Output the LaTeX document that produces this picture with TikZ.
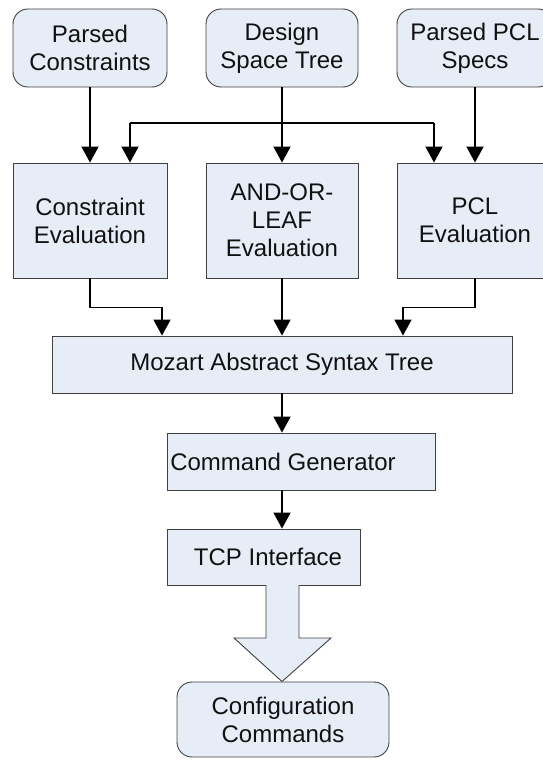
\documentclass[tikz,border=0pt]{standalone}
\usepackage{fontspec}
\setmainfont{Liberation Sans}
\usetikzlibrary{arrows.meta,calc}
\definecolor{boxfill}{HTML}{E6EDF7}
\definecolor{boxline}{HTML}{404040}
\definecolor{txt}{HTML}{111111}
\begin{document}
\begin{tikzpicture}[x=1pt,y=-1pt,
  every node/.style={font=\fontsize{24}{28}\selectfont, text=txt, align=center, inner sep=0pt},
  rbox/.style={draw=boxline, line width=0.9pt, fill=boxfill, rounded corners=15pt},
  sbox/.style={draw=boxline, line width=0.9pt, fill=boxfill},
  arr/.style={draw=black, line width=1.8pt, -{Triangle[length=16pt,width=17pt]}},
  ln/.style={draw=black, line width=1.8pt}]
\useasboundingbox (0,0) rectangle (543,760);
\clip (0,0) rectangle (543,760);
\fill[white] (0,0) rectangle (543,760);
% top row
\node[rbox, minimum width=154pt, minimum height=78pt] (pc) at (90,48) {Parsed\\Constraints};
\node[rbox, minimum width=152pt, minimum height=78pt] (ds) at (282,48) {Design\\Space Tree};
\node[rbox, minimum width=156pt, minimum height=78pt] (pp) at (475,48) {Parsed PCL\\Specs};
% evaluation row
\node[sbox, minimum width=154pt, minimum height=115pt] (ce) at (90,220.5) {Constraint\\Evaluation};
\node[sbox, minimum width=152pt, minimum height=115pt] (ao) at (282,220.5) {AND-OR-\\LEAF\\Evaluation};
\node[sbox, minimum width=156pt, minimum height=115pt] (pe) at (475,220.5) {PCL\\Evaluation};
% lower chain
\node[sbox, minimum width=460pt, minimum height=57pt] (mz) at (282,364.5) {Mozart Abstract Syntax Tree};
\node[sbox, minimum width=268pt, minimum height=57pt] (cg) at (301,461.5) {};
\node (cgt) at (283,461.5) {Command Generator};
\node[sbox, minimum width=193pt, minimum height=56pt] (tcp) at (263.5,557) {};
\node (tcpt) at (268,557) {TCP Interface};
\node[rbox, minimum width=212pt, minimum height=75pt] (cc) at (283,719.5) {Configuration\\Commands};
% connectors
\coordinate (jn) at (282,123);
\draw[arr] (pc.south) -- (ce.north);
\draw[arr] (ds.south) -- (ao.north);
\draw[arr] (pp.south) -- (pe.north);
\draw[ln] ([xshift=40pt]ce.north |- jn) -- ([xshift=-41pt]pe.north |- jn);
\draw[arr] ([xshift=40pt]ce.north |- jn) -- ([xshift=40pt]ce.north);
\draw[arr] ([xshift=-41pt]pe.north |- jn) -- ([xshift=-41pt]pe.north);
\draw[arr] (ce.south) -- ++(0,29) -| ([xshift=-120pt]mz.north);
\draw[arr] (ao.south) -- (mz.north);
\draw[arr] (pe.south) -- ++(0,29) -| ([xshift=121pt]mz.north);
\draw[arr] (mz.south) -- (mz.south |- cg.north);
\draw[arr] (mz.south |- cg.south) -- (mz.south |- tcp.north);
% big block arrow
\filldraw[fill=boxfill, draw=boxline, line width=0.9pt]
  (266,585) -- (266,638) -- (234,638) -- (cc.north -| mz.south) -- (331,638) -- (299,638) -- (299,585);
\end{tikzpicture}
\end{document}
